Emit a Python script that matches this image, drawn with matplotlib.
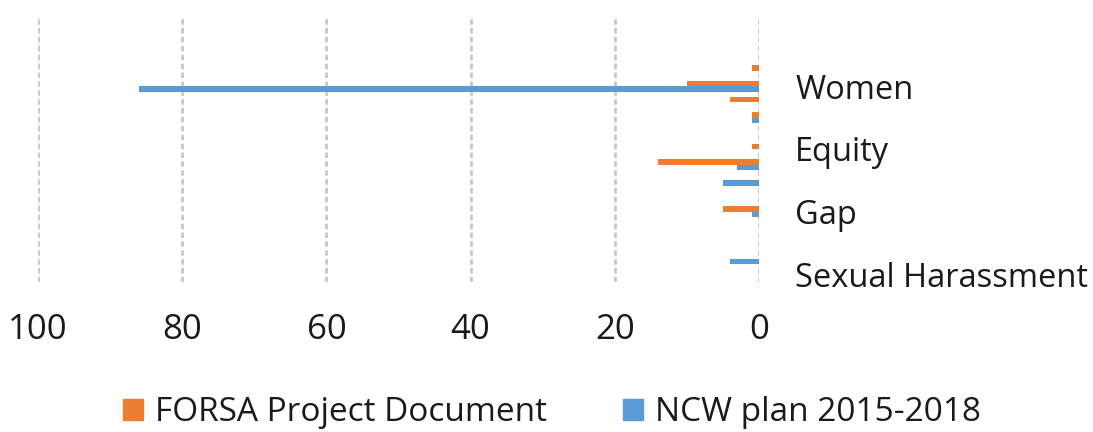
import matplotlib
matplotlib.use("Agg")
import matplotlib.pyplot as plt
from matplotlib.patches import Patch
import numpy as np

plt.rcParams['font.family'] = ['Open Sans', 'DejaVu Sans']

# 17 categories, top to bottom; only every 4th one carries a label
labels = ["", "", "", "", "Women", "", "", "", "Equity", "", "", "", "Gap",
          "", "", "", "Sexual Harassment"]
forsa = [0, 0, 0, 1, 10, 4, 1, 0, 1, 14, 0, 0, 5, 0, 0, 0, 0]
ncw = [0, 0, 0, 0, 86, 0, 1, 0, 0, 3, 5, 0, 1, 0, 0, 4, 0]
xticks = [100, 80, 60, 40, 20, 0]

orange = '#ED7D31'
blue = '#5B9BD5'

fig = plt.figure(figsize=(10.93, 4.32), dpi=100)
ax = fig.add_axes([0.0348, 0.3472, 0.6596, 0.6158])

y = np.arange(len(labels))
h = 0.34
ax.barh(y - h / 2, forsa, height=h, color=orange)
ax.barh(y + h / 2, ncw, height=h, color=blue)

ax.set_xlim(100, 0)
ax.set_ylim(len(labels) - 0.5, -0.5)
ax.set_xticks(xticks)
ax.set_xticklabels([str(v) for v in xticks], fontsize=25, color='#1a1a1a')
ax.tick_params(axis='x', length=0, pad=22)

lab_pos = [i for i, s in enumerate(labels) if s]
ax.yaxis.tick_right()
ax.set_yticks(lab_pos)
ax.set_yticklabels([labels[i] for i in lab_pos], fontsize=23.5, color='#1a1a1a')
ax.tick_params(axis='y', length=0, pad=26)

for s in ax.spines.values():
    s.set_visible(False)
ax.grid(axis='x', color='#c8c8c8', linestyle=(0, (2, 1.2)), linewidth=2)
ax.set_axisbelow(True)

handles = [Patch(color=orange, label='FORSA Project Document'),
           Patch(color=blue, label='NCW plan 2015-2018')]
fig.legend(handles=handles, loc='center left', bbox_to_anchor=(0.085, 0.044), ncol=2,
           frameon=False, fontsize=24, handlelength=0.6, handleheight=0.6,
           handletextpad=0.35, columnspacing=2.3, labelcolor='#1a1a1a')

plt.savefig('out.png', dpi=100)
